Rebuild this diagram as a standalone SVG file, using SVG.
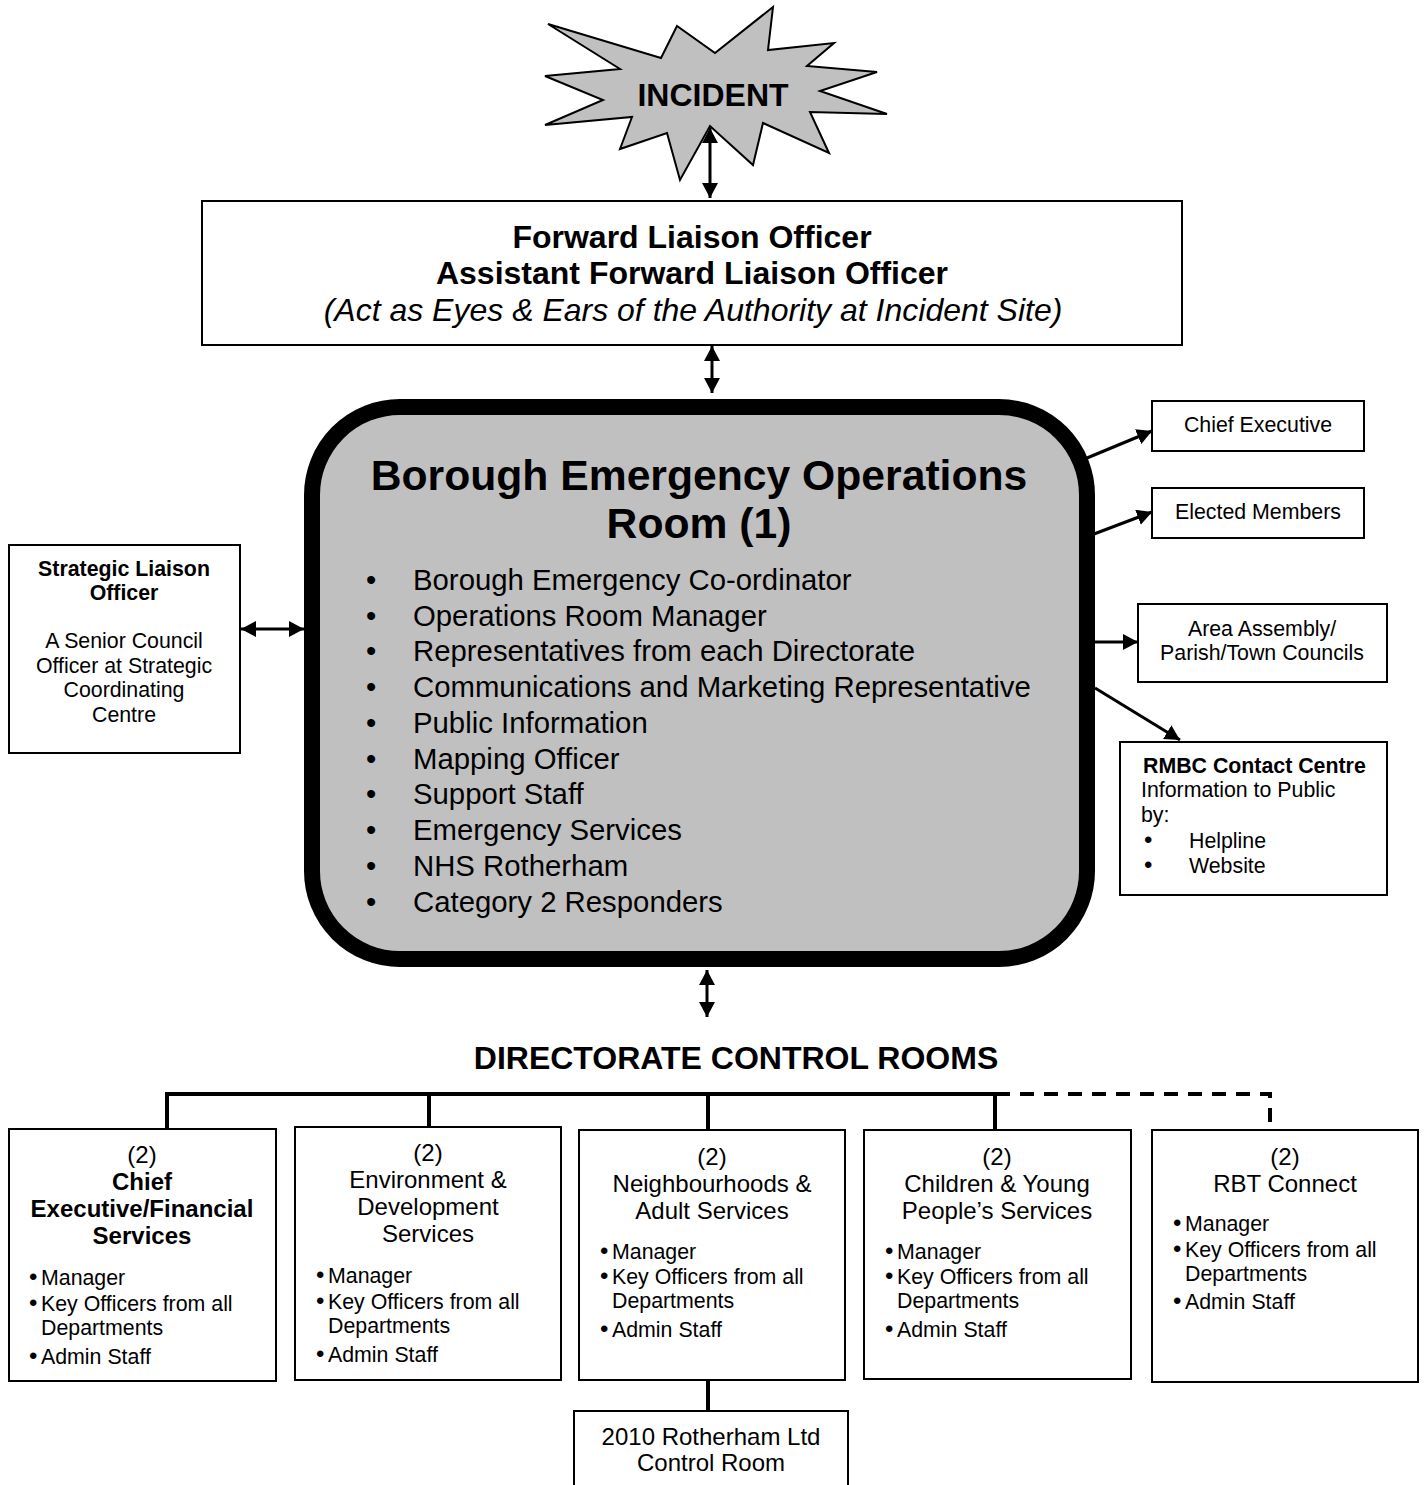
<svg xmlns="http://www.w3.org/2000/svg" width="1424" height="1485" viewBox="0 0 1424 1485">
<style>
text{font-family:"Liberation Sans",Arial,sans-serif;fill:#000}
.box{fill:#fff;stroke:#000;stroke-width:2}
.c{text-anchor:middle}
.b{font-weight:bold}
.s21{font-size:21.33px}
.s24{font-size:24px}
.s32{font-size:32px}
.s29{font-size:29.33px}
.bl{font-size:24px}
.ln{stroke:#000;stroke-width:3;fill:none}
.bus{stroke:#000;stroke-width:4;fill:none}
</style>
<defs>
<marker id="ah" viewBox="0 0 15 16" refX="15" refY="8" markerWidth="15" markerHeight="16" markerUnits="userSpaceOnUse" orient="auto-start-reverse">
<path d="M0,0 L15,8 L0,16 z" fill="#000"/>
</marker>
</defs>

<g id="incident">
<polygon points="548,24 661,58 677,26 715,53 773,7 768,50 834,43 807,66 877,72 820,91 887,114 810,112 829,153 763,123 753,165 710,126 680,180 667,133 620,149 632,117 545,125 603,100 545,76 620,69" fill="#c0c0c0" stroke="#000" stroke-width="2"/>
<text x="713" y="106" class="c b s32">INCIDENT</text>
</g>

<g id="forward-liaison">
<rect x="202" y="201" width="980" height="144" class="box"/>
<text x="692" y="248" class="c b s32">Forward Liaison Officer</text>
<text x="692" y="284" class="c b s32">Assistant Forward Liaison Officer</text>
<text x="693" y="321" class="c s32" font-style="italic">(Act as Eyes &amp; Ears of the Authority at Incident Site)</text>
</g>

<g id="beor">
<rect x="312" y="407" width="775" height="552" rx="88" ry="88" fill="#c0c0c0" stroke="#000" stroke-width="16"/>
<text x="699" y="490" class="c b" font-size="42.67px">Borough Emergency Operations</text>
<text x="699" y="538" class="c b" font-size="42.67px">Room (1)</text>
<g class="s29">
<text x="366" y="590">•<tspan x="413">Borough Emergency Co-ordinator</tspan></text>
<text x="366" y="626">•<tspan x="413">Operations Room Manager</tspan></text>
<text x="366" y="661">•<tspan x="413">Representatives from each Directorate</tspan></text>
<text x="366" y="697">•<tspan x="413">Communications and Marketing Representative</tspan></text>
<text x="366" y="733">•<tspan x="413">Public Information</tspan></text>
<text x="366" y="769">•<tspan x="413">Mapping Officer</tspan></text>
<text x="366" y="804">•<tspan x="413">Support Staff</tspan></text>
<text x="366" y="840">•<tspan x="413">Emergency Services</tspan></text>
<text x="366" y="876">•<tspan x="413">NHS Rotherham</tspan></text>
<text x="366" y="912">•<tspan x="413">Category 2 Responders</tspan></text>
</g>
</g>

<g id="strategic-liaison">
<rect x="9" y="545" width="231" height="208" class="box"/>
<text x="124" y="576" class="c b s21">Strategic Liaison</text>
<text x="124" y="600" class="c b s21">Officer</text>
<text x="124" y="648" class="c s21">A Senior Council</text>
<text x="124" y="673" class="c s21">Officer at Strategic</text>
<text x="124" y="697" class="c s21">Coordinating</text>
<text x="124" y="722" class="c s21">Centre</text>
</g>

<g id="chief-executive">
<rect x="1152" y="401" width="212" height="50" class="box"/>
<text x="1258" y="432" class="c s21">Chief Executive</text>
</g>
<g id="elected-members">
<rect x="1152" y="488" width="212" height="50" class="box"/>
<text x="1258" y="519" class="c s21">Elected Members</text>
</g>
<g id="area-assembly">
<rect x="1138" y="604" width="249" height="78" class="box"/>
<text x="1262" y="636" class="c s21">Area Assembly/</text>
<text x="1262" y="660" class="c s21">Parish/Town Councils</text>
</g>
<g id="rmbc-contact">
<rect x="1120" y="742" width="267" height="153" class="box"/>
<text x="1143" y="773" class="b s21">RMBC Contact Centre</text>
<text x="1141" y="797" class="s21">Information to Public</text>
<text x="1141" y="822" class="s21">by:</text>
<text x="1144" y="848" class="s21"><tspan class="bl">•</tspan><tspan x="1189">Helpline</tspan></text>
<text x="1144" y="873" class="s21"><tspan class="bl">•</tspan><tspan x="1189">Website</tspan></text>
</g>

<g id="directorate-title">
<text x="736" y="1069" class="c b s32">DIRECTORATE CONTROL ROOMS</text>
</g>

<g id="dir-chief-exec">
<rect x="9" y="1129" width="267" height="252" class="box"/>
<text x="142" y="1163" class="c s24">(2)</text>
<text x="142" y="1190" class="c b s24">Chief</text>
<text x="142" y="1217" class="c b s24">Executive/Financial</text>
<text x="142" y="1244" class="c b s24">Services</text>
<g class="s21">
<text x="29" y="1285"><tspan class="bl">•</tspan><tspan x="41">Manager</tspan></text>
<text x="29" y="1311"><tspan class="bl">•</tspan><tspan x="41">Key Officers from all</tspan></text>
<text x="41" y="1335">Departments</text>
<text x="29" y="1364"><tspan class="bl">•</tspan><tspan x="41">Admin Staff</tspan></text>
</g>
</g>

<g id="dir-environment">
<rect x="295" y="1127" width="266" height="253" class="box"/>
<text x="428" y="1161" class="c s24">(2)</text>
<text x="428" y="1188" class="c s24">Environment &amp;</text>
<text x="428" y="1215" class="c s24">Development</text>
<text x="428" y="1242" class="c s24">Services</text>
<g class="s21">
<text x="316" y="1283"><tspan class="bl">•</tspan><tspan x="328">Manager</tspan></text>
<text x="316" y="1309"><tspan class="bl">•</tspan><tspan x="328">Key Officers from all</tspan></text>
<text x="328" y="1333">Departments</text>
<text x="316" y="1362"><tspan class="bl">•</tspan><tspan x="328">Admin Staff</tspan></text>
</g>
</g>

<g id="dir-neighbourhoods">
<rect x="579" y="1130" width="266" height="250" class="box"/>
<text x="712" y="1165" class="c s24">(2)</text>
<text x="712" y="1192" class="c s24">Neighbourhoods &amp;</text>
<text x="712" y="1219" class="c s24">Adult Services</text>
<g class="s21">
<text x="600" y="1259"><tspan class="bl">•</tspan><tspan x="612">Manager</tspan></text>
<text x="600" y="1284"><tspan class="bl">•</tspan><tspan x="612">Key Officers from all</tspan></text>
<text x="612" y="1308">Departments</text>
<text x="600" y="1337"><tspan class="bl">•</tspan><tspan x="612">Admin Staff</tspan></text>
</g>
</g>

<g id="dir-children">
<rect x="864" y="1130" width="267" height="249" class="box"/>
<text x="997" y="1165" class="c s24">(2)</text>
<text x="997" y="1192" class="c s24">Children &amp; Young</text>
<text x="997" y="1219" class="c s24">People’s Services</text>
<g class="s21">
<text x="885" y="1259"><tspan class="bl">•</tspan><tspan x="897">Manager</tspan></text>
<text x="885" y="1284"><tspan class="bl">•</tspan><tspan x="897">Key Officers from all</tspan></text>
<text x="897" y="1308">Departments</text>
<text x="885" y="1337"><tspan class="bl">•</tspan><tspan x="897">Admin Staff</tspan></text>
</g>
</g>

<g id="dir-rbt">
<rect x="1152" y="1130" width="266" height="252" class="box"/>
<text x="1285" y="1165" class="c s24">(2)</text>
<text x="1285" y="1192" class="c s24">RBT Connect</text>
<g class="s21">
<text x="1173" y="1231"><tspan class="bl">•</tspan><tspan x="1185">Manager</tspan></text>
<text x="1173" y="1257"><tspan class="bl">•</tspan><tspan x="1185">Key Officers from all</tspan></text>
<text x="1185" y="1281">Departments</text>
<text x="1173" y="1309"><tspan class="bl">•</tspan><tspan x="1185">Admin Staff</tspan></text>
</g>
</g>

<g id="rotherham-2010">
<rect x="574" y="1411" width="274" height="90" class="box"/>
<text x="711" y="1445" class="c s24">2010 Rotherham Ltd</text>
<text x="711" y="1471" class="c s24">Control Room</text>
</g>

<g id="connectors">
<line x1="710" y1="128" x2="710" y2="198" class="ln" marker-start="url(#ah)" marker-end="url(#ah)"/>
<line x1="712" y1="346" x2="712" y2="393" class="ln" marker-start="url(#ah)" marker-end="url(#ah)"/>
<line x1="707" y1="970" x2="707" y2="1017" class="ln" marker-start="url(#ah)" marker-end="url(#ah)"/>
<line x1="241" y1="629" x2="304" y2="629" class="ln" marker-start="url(#ah)" marker-end="url(#ah)"/>
<line x1="1087" y1="458" x2="1152" y2="431" class="ln" marker-end="url(#ah)"/>
<line x1="1094" y1="534" x2="1152" y2="512" class="ln" marker-end="url(#ah)"/>
<line x1="1094" y1="642" x2="1138" y2="642" class="ln" marker-end="url(#ah)"/>
<line x1="1095" y1="688" x2="1180" y2="740" class="ln" marker-end="url(#ah)"/>
<path d="M167,1129 V1094 H996" class="bus"/>
<line x1="429" y1="1094" x2="429" y2="1127" class="bus"/>
<line x1="708" y1="1094" x2="708" y2="1130" class="bus"/>
<line x1="995" y1="1094" x2="995" y2="1130" class="bus"/>
<path d="M996,1094 H1270 V1130" class="bus" stroke-dasharray="14,10"/>
<line x1="708" y1="1380" x2="708" y2="1411" class="bus"/>
</g>
</svg>
